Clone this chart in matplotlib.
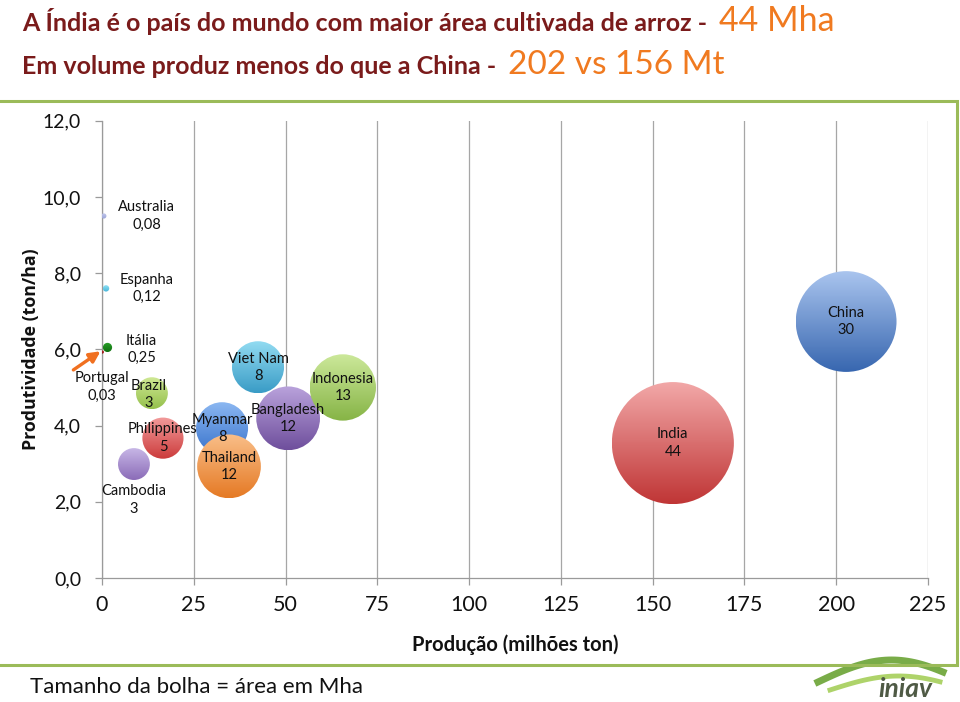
import numpy as np
import matplotlib.pyplot as plt
from matplotlib.patches import Ellipse, Rectangle
from matplotlib.colors import LinearSegmentedColormap

# bubble chart data: production (Mt), yield (t/ha), area (Mha)
countries = ['Australia', 'Espanha', 'Itália', 'Portugal', 'Brazil', 'Philippines',
             'Cambodia', 'Viet Nam', 'Myanmar', 'Thailand', 'Bangladesh',
             'Indonesia', 'India', 'China']
production = [0.5, 1.1, 1.5, 0.1, 13.6, 16.6, 8.7, 42.5, 32.7, 34.6, 50.7, 65.6, 155.5, 202.7]
productivity = [9.5, 7.6, 6.05, 5.93, 4.85, 3.67, 2.99, 5.53, 3.93, 2.93, 4.19, 5.0, 3.54, 6.73]
area = [0.08, 0.12, 0.25, 0.03, 3, 5, 3, 8, 8, 12, 12, 13, 44, 30]
area_labels = ['0,08', '0,12', '0,25', '0,03', '3', '5', '3', '8', '8', '12', '12', '13', '44', '30']

x_ticks = [0, 25, 50, 75, 100, 125, 150, 175, 200, 225]
y_ticks = [0, 2, 4, 6, 8, 10, 12]

# (top colour, bottom colour) of each bubble gradient
colors = [('#c3c8ec', '#9aa3d6'), ('#8fe0f5', '#45b5d8'), ('#2aa02a', '#107010'),
          ('#c03030', '#8a1010'), ('#cfe894', '#95c04c'), ('#f29a9a', '#cc3c3c'),
          ('#c7b6e6', '#8b6cb8'), ('#93dcf2', '#3a9cc6'), ('#8cb8f2', '#3a74cc'),
          ('#f9be88', '#e57a25'), ('#b9a2dc', '#6f4f9c'), ('#cce89a', '#86b446'),
          ('#f2a8a8', '#c03636'), ('#a9c4ee', '#3867b0')]

# label offsets in pixels (dx, dy) from bubble centre
label_offsets = [(43, 0), (41, 0), (34, -2), (0, -35), (-3, -1), (0, 0), (0, -36),
                 (0, 0), (0, 0), (0, 0), (0, 0), (0, 0), (0, 0), (0, 0)]

W, H, DPI = 960, 702, 100
fig = plt.figure(figsize=(W / DPI, H / DPI), dpi=DPI)
fig.patch.set_facecolor('white')

ax_l, ax_r, ax_t, ax_b = 102, 928, 120.7, 578
ax = fig.add_axes([ax_l / W, 1 - ax_b / H, (ax_r - ax_l) / W, (ax_b - ax_t) / H])
ax.set_xlim(0, 225)
ax.set_ylim(0, 12)

px_x = (ax_r - ax_l) / 225
px_y = (ax_b - ax_t) / 12

# gradient bubbles (radius in px proportional to sqrt of area)
grad = np.linspace(0, 1, 64).reshape(-1, 1)
for xi, yi, ai, (c1, c2) in zip(production, productivity, area, colors):
    r = 9.2 * np.sqrt(ai)
    w, h = 2 * r / px_x, 2 * r / px_y
    ell = Ellipse((xi, yi), w, h, transform=ax.transData, facecolor='none',
                  edgecolor='none', zorder=3)
    ax.add_patch(ell)
    cmap = LinearSegmentedColormap.from_list('g', [c1, c2])
    im = ax.imshow(grad, cmap=cmap, aspect='auto', origin='upper',
                   extent=(xi - w / 2, xi + w / 2, yi - h / 2, yi + h / 2),
                   zorder=3, interpolation='bilinear')
    im.set_clip_path(ell)

ax.set_xlim(0, 225)
ax.set_ylim(0, 12)

for name, xi, yi, lab, (dx, dy) in zip(countries, production, productivity,
                                        area_labels, label_offsets):
    ax.annotate(name + '\n' + lab, (xi, yi), xytext=(dx * 0.72, dy * 0.72),
                textcoords='offset points', ha='center', va='center',
                fontsize=10.5, family='Lato', color='#111111', linespacing=1.3,
                zorder=5, annotation_clip=False)

# arrow pointing at Portugal
ax.annotate('', xy=(-0.4, 5.95), xytext=(-7.8, 5.46), annotation_clip=False,
            arrowprops=dict(arrowstyle='-|>', color='#f07020', lw=2.4,
                            mutation_scale=16, shrinkA=0, shrinkB=0), zorder=6)

ax.set_xticks(x_ticks)
ax.set_yticks(y_ticks)
ax.set_yticklabels([('%.1f' % v).replace('.', ',') for v in y_ticks])
ax.grid(axis='x', color='#a6a6a6', lw=0.9, zorder=0)
ax.set_axisbelow(True)
for s in ['top', 'right']:
    ax.spines[s].set_visible(False)
for s in ['left', 'bottom']:
    ax.spines[s].set_color('#9a9a9a')
    ax.spines[s].set_linewidth(0.9)
ax.tick_params(axis='y', length=5, width=0.9, color='#9a9a9a', pad=10,
               labelsize=14, labelcolor='#111111')
ax.tick_params(axis='x', length=5, width=0.9, color='#9a9a9a', pad=7,
               labelsize=15.5, labelcolor='#111111')
for t in ax.get_xticklabels() + ax.get_yticklabels():
    t.set_family('Lato')

ax.set_xlabel('Produção (milhões ton)', fontsize=14.5, fontweight='bold',
              family='Lato', color='#111111', labelpad=14)
ax.set_ylabel('Produtividade (ton/ha)', fontsize=12.8, fontweight='bold',
              family='Open Sans', color='#111111')
ax.yaxis.set_label_coords((40 - ax_l) / (ax_r - ax_l), 0.5)

# green frame around the chart
fig.patches.append(Rectangle((-0.02, 1 - 665 / H), 957 / W + 0.02, 564 / H,
                             transform=fig.transFigure, fill=False,
                             edgecolor='#9bbb59', lw=2.2, zorder=10))

# titles
renderer = fig.canvas.get_renderer()
dark = '#7a1b1b'
orange = '#f07a20'
t1 = fig.text(22 / W, 1 - 31 / H, 'A Índia é o país do mundo com maior área cultivada de arroz - ',
              fontsize=18, fontweight='bold', family='Lato', color=dark, va='baseline')
e1 = t1.get_window_extent(renderer)
fig.text(e1.x1 / W + 6 / W, 1 - 31 / H, '44 Mha', fontsize=24.5, family='Lato',
         color=orange, va='baseline')
t2 = fig.text(22 / W, 1 - 74 / H, 'Em volume produz menos do que a China - ',
              fontsize=18, fontweight='bold', family='Lato', color=dark, va='baseline')
e2 = t2.get_window_extent(renderer)
fig.text(e2.x1 / W + 6 / W, 1 - 74 / H, '202 vs 156 Mt', fontsize=24, family='Lato',
         color=orange, va='baseline')

fig.text(30 / W, 1 - 693 / H, 'Tamanho da bolha = área em Mha', fontsize=16,
         family='Lato', color='#111111', va='baseline')

# small logo
tt = np.linspace(0, 1, 40)
fig.lines.append(plt.Line2D((818 + 125 * tt) / W, 1 - (682 - 22 * np.sin(np.pi * tt * 0.85)) / H,
                            transform=fig.transFigure, color='#6aa334', lw=5, alpha=0.9))
fig.lines.append(plt.Line2D((830 + 110 * tt) / W, 1 - (690 - 14 * np.sin(np.pi * tt * 0.8)) / H,
                            transform=fig.transFigure, color='#a5cf5a', lw=3.5, alpha=0.9))
fig.text(905 / W, 1 - 697 / H, 'iniav', fontsize=19, fontweight='bold', style='italic',
         family='Lato', color='#4f5a45', ha='center', va='baseline')

fig.savefig('out.png', dpi=DPI)
